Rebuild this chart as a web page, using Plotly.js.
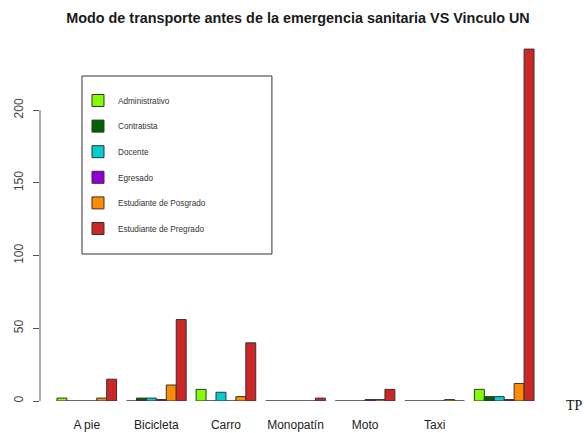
<!DOCTYPE html>
<html>
<head>
<meta charset="utf-8">
<script src="https://cdn.plot.ly/plotly-3.0.1.min.js"></script>
<style>html,body{margin:0;padding:0;background:#fff;}#chart{width:584px;height:433px;}</style>
</head>
<body>
<div id="chart"></div>
<script>
// Categories (transport mode); the 7th group is "TP" (label drawn at the right edge)
const categories = ["A pie", "Bicicleta", "Carro", "Monopatín", "Moto", "Taxi", "TP"];
const tickLabels = ["A pie", "Bicicleta", "Carro", "Monopatín", "Moto", "Taxi"];

// Series (vínculo UN)
const seriesNames = ["Administrativo", "Contratista", "Docente", "Egresado", "Estudiante de Posgrado", "Estudiante de Pregrado"];
const administrativo = [2, 0, 8, 0, 0, 0, 8];
const contratista    = [0, 2, 0, 0, 0, 0, 3];
const docente        = [0, 2, 6, 0, 0, 0, 3];
const egresado       = [0, 1, 0, 0, 1, 0, 1];
const posgrado       = [2, 11, 3, 0, 1, 1, 12];
const pregrado       = [15, 56, 40, 2, 8, 0, 242];

const seriesValues = [administrativo, contratista, docente, egresado, posgrado, pregrado];
const colors = ["#7FFF00", "#006400", "#00CED1", "#9400D3", "#FF8C00", "#CD2626"];

const traces = seriesNames.map((name, i) => ({
  type: "bar",
  name: name,
  x: categories,
  y: seriesValues[i],
  legendgroup: "g" + i,
  marker: { color: colors[i], line: { color: "#333333", width: 1 } },
  hoverinfo: "x+y+name"
}));

const layout = {
  width: 584,
  height: 433,
  margin: { l: 40, r: 44.8, t: 35, b: 32 },
  paper_bgcolor: "#ffffff",
  plot_bgcolor: "#ffffff",
  barmode: "group",
  bargap: 1 / 7,
  bargroupgap: 0,
  title: {
    text: "Modo de transporte antes de la emergencia sanitaria VS Vinculo UN",
    font: { family: "Liberation Sans, Arial, sans-serif", size: 14.4, color: "#1a1a1a", weight: "bold" },
    x: 298 / 584, xref: "container", xanchor: "center",
    y: 1 - 18 / 433, yref: "container", yanchor: "middle"
  },
  xaxis: {
    type: "category",
    range: [-0.5 - 12 / 69.6, 6.5],
    tickvals: tickLabels,
    ticktext: tickLabels,
    showline: false, showgrid: false, zeroline: false, ticks: "",
    ticklabelstandoff: 15,
    tickfont: { family: "Liberation Sans, Arial, sans-serif", size: 12, color: "#222222" }
  },
  yaxis: {
    range: [0, 251.7],
    tickvals: [0, 50, 100, 150, 200],
    tickangle: -90,
    ticks: "outside", ticklen: 6, tickcolor: "#555555", tickwidth: 1,
    showline: false, showgrid: false, zeroline: false,
    ticklabelstandoff: 5,
    tickfont: { family: "Liberation Sans, Arial, sans-serif", size: 12, color: "#444444" }
  },
  showlegend: true,
  legend: {
    x: (78 - 40) / 499.2, xanchor: "left",
    y: (401 - 86) / 366, yanchor: "top",
    bgcolor: "rgba(0,0,0,0)",
    borderwidth: 0,
    tracegroupgap: 6.6,
    traceorder: "grouped",
    font: { family: "Liberation Sans, Arial, sans-serif", size: 8.2, color: "#333333" }
  },
  shapes: [
    { type: "line", xref: "paper", yref: "y", x0: 0, x1: 0, y0: 0, y1: 200,
      line: { color: "#555555", width: 1 } },
    { type: "rect", xref: "paper", yref: "paper",
      x0: (82 - 40) / 499.2, x1: (272 - 40) / 499.2,
      y0: (401 - 254) / 366, y1: (401 - 76) / 366,
      line: { color: "#333333", width: 1 }, fillcolor: "rgba(0,0,0,0)" }
  ],
  annotations: [
    { text: "TP", xref: "paper", yref: "paper",
      x: (564 - 40) / 499.2, y: (401 - 405) / 366, xanchor: "left", yanchor: "middle",
      showarrow: false,
      font: { family: "Liberation Serif, DejaVu Serif, serif", size: 14, color: "#111111" } }
  ]
};

Plotly.newPlot("chart", traces, layout, { displayModeBar: false, staticPlot: true });
</script>
</body>
</html>
